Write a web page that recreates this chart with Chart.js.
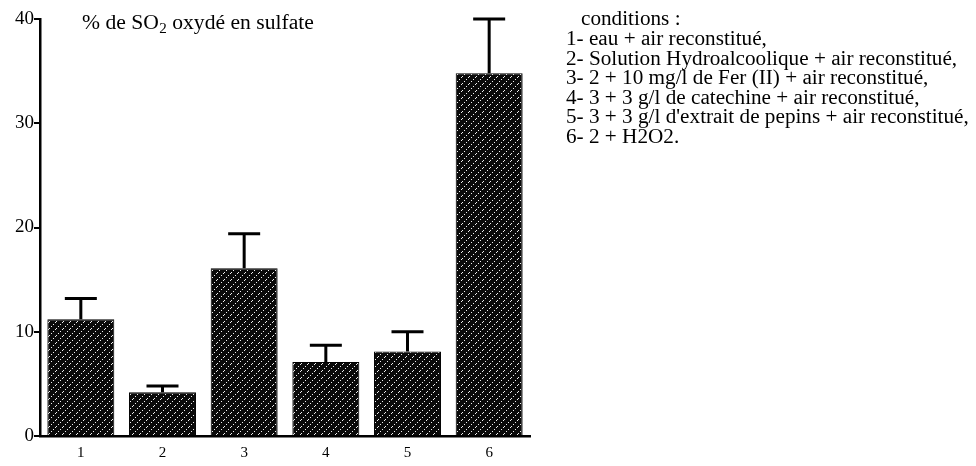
<!DOCTYPE html>
<html>
<head>
<meta charset="utf-8">
<script src="https://cdn.jsdelivr.net/npm/chart.js@4.4.1/dist/chart.umd.min.js"></script>
<style>
html,body{margin:0;padding:0;background:#fff;}
#wrap{width:976px;height:466px;position:relative;}
</style>
</head>
<body>
<div id="wrap"><canvas id="c" width="976" height="466"></canvas></div>
<script>
const categories = ["1", "2", "3", "4", "5", "6"];
const sulfateValues = [11.2, 4.2, 16.1, 7.1, 8.1, 34.8];
const errorTops = [13.2, 4.8, 19.4, 8.7, 10.0, 40.0];
const yTicks = [0, 10, 20, 30, 40];
const titleParts = ["% de SO", "2", " oxydé en sulfate"];
const legendTitle = "conditions :";
const legendLines = [
  "1- eau + air reconstitué,",
  "2- Solution Hydroalcoolique + air reconstitué,",
  "3- 2 + 10 mg/l de Fer (II) + air reconstitué,",
  "4- 3 + 3 g/l de catechine + air reconstitué,",
  "5- 3 + 3 g/l d'extrait de pepins + air reconstitué,",
  "6- 2 + H2O2."
];

const FONT = "'Liberation Serif', 'Times New Roman', serif";

const ctx0 = document.getElementById('c').getContext('2d');
const hatch = ctx0.createPattern((function(){
  const s = 7;
  const pc = document.createElement('canvas');
  pc.width = s; pc.height = s;
  const p = pc.getContext('2d');
  p.fillStyle = '#0a0a0a';
  p.fillRect(0, 0, s, s);
  p.fillStyle = '#f0f0f0';
  for (let i = 0; i < s; i += 2) p.fillRect(i, s - 1 - i, 1, 1);
  return pc;
})(), 'repeat');

const errorBarPlugin = {
  id: 'errorBars',
  afterDatasetsDraw(chart) {
    const ctx = chart.ctx;
    const yScale = chart.scales.y;
    const meta = chart.getDatasetMeta(0);
    ctx.save();
    ctx.strokeStyle = '#000';
    ctx.lineWidth = 3;
    meta.data.forEach((el, i) => {
      const x = el.x;
      const yTop = el.y;
      const yErr = yScale.getPixelForValue(errorTops[i]);
      ctx.beginPath();
      ctx.moveTo(x, yTop);
      ctx.lineTo(x, yErr);
      ctx.moveTo(x - 16, yErr);
      ctx.lineTo(x + 16, yErr);
      ctx.stroke();
    });
    ctx.restore();
  }
};

function stretchedText(ctx, text, x, y, sx) {
  ctx.save();
  ctx.translate(x, y);
  ctx.scale(sx, 1);
  ctx.fillText(text, 0, 0);
  ctx.restore();
  return ctx.measureText(text).width * sx;
}

const textPlugin = {
  id: 'texts',
  afterDraw(chart) {
    const ctx = chart.ctx;
    ctx.save();
    ctx.fillStyle = '#000';
    ctx.textBaseline = 'alphabetic';
    // title with real subscript
    let x = 82;
    const sx = 1.08;
    ctx.font = '20px ' + FONT;
    x += stretchedText(ctx, titleParts[0], x, 29, sx);
    ctx.font = '14px ' + FONT;
    x += stretchedText(ctx, titleParts[1], x + 0.5, 33, sx) + 0.5;
    ctx.font = '20px ' + FONT;
    stretchedText(ctx, titleParts[2], x, 29, sx);
    // legend block
    ctx.font = '20px ' + FONT;
    stretchedText(ctx, legendTitle, 581, 25, 1.06);
    legendLines.forEach((t, i) => {
      stretchedText(ctx, t, 566, 45 + i * 19.5, 1.06);
    });
    ctx.restore();
  }
};

new Chart(document.getElementById('c'), {
  type: 'bar',
  data: {
    labels: categories,
    datasets: [{
      data: sulfateValues,
      backgroundColor: hatch,
      borderColor: '#000',
      borderWidth: 1,
      barPercentage: 0.82,
      categoryPercentage: 1.0
    }]
  },
  options: {
    responsive: false,
    animation: false,
    devicePixelRatio: 1,
    layout: { padding: { top: 19, right: 446, left: 0, bottom: 0 } },
    plugins: { legend: { display: false }, tooltip: { enabled: false }, title: { display: false } },
    scales: {
      x: {
        grid: { display: false, drawTicks: false },
        border: { display: true, color: '#000', width: 2.5 },
        ticks: { color: '#000', font: { family: FONT, size: 15 }, padding: 8 },
        afterFit(s) { s.height = 30; }
      },
      y: {
        min: 0, max: 40,
        afterBuildTicks(s) { s.ticks = yTicks.map(v => ({ value: v })); },
        grid: { drawOnChartArea: false, drawTicks: true, tickLength: 6, color: '#000', lineWidth: 2 },
        border: { display: true, color: '#000', width: 2.5 },
        ticks: { color: '#000', font: { family: FONT, size: 19 }, padding: 0 },
        afterFit(s) { s.width = 40; }
      }
    }
  },
  plugins: [errorBarPlugin, textPlugin]
});
</script>
</body>
</html>
